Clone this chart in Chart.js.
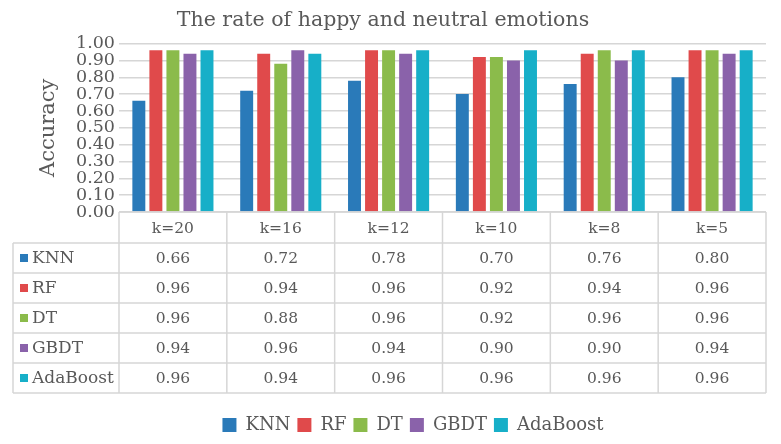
<!DOCTYPE html>
<html>
<head>
<meta charset="utf-8">
<script src="https://cdn.jsdelivr.net/npm/chart.js@4.4.1/dist/chart.umd.min.js"></script>
<style>
  html, body { margin: 0; padding: 0; background: #ffffff; }
  #wrap { width: 781px; height: 444px; }
</style>
</head>
<body>
<div id="wrap"><canvas id="grafica"></canvas></div>
<script>
// datos
const categorias = ["k=20", "k=16", "k=12", "k=10", "k=8", "k=5"];
const knn      = [0.66, 0.72, 0.78, 0.70, 0.76, 0.80];
const rf       = [0.96, 0.94, 0.96, 0.92, 0.94, 0.96];
const dt       = [0.96, 0.88, 0.96, 0.92, 0.96, 0.96];
const gbdt     = [0.94, 0.96, 0.94, 0.90, 0.90, 0.94];
const adaboost = [0.96, 0.94, 0.96, 0.96, 0.96, 0.96];

const series = [
  { nombre: "KNN", datos: knn, color: "#2A7AB9" },
  { nombre: "RF", datos: rf, color: "#E04A4B" },
  { nombre: "DT", datos: dt, color: "#8BBB4B" },
  { nombre: "GBDT", datos: gbdt, color: "#8A62AA" },
  { nombre: "AdaBoost", datos: adaboost, color: "#17AFC8" }
];

const FUENTE = "'DejaVu Serif', 'Liberation Serif', serif";
const GRIS_TEXTO = "#595959";
const GRIS_LINEA = "#d6d6d6";

// tabla de datos debajo del grafico + ajuste de la leyenda
const tablaDatos = {
  id: "tablaDatos",
  afterLayout(chart) {
    // la leyenda del original esta algo desplazada a la derecha
    if (chart.legend) {
      chart.legend.left += 30;
      chart.legend.right += 30;
    }
  },
  afterDraw(chart) {
    const { ctx, chartArea, scales } = chart;
    const x = scales.x;
    const colAncho = (chartArea.right - chartArea.left) / categorias.length;
    const izq = 13;
    const altoCab = 31;
    const altoFila = 30;
    const top = chartArea.bottom;
    const filasTop = top + altoCab;
    const bottom = filasTop + altoFila * series.length;

    ctx.save();
    ctx.strokeStyle = GRIS_LINEA;
    ctx.lineWidth = 1.5;

    // lineas horizontales
    ctx.beginPath();
    ctx.moveTo(chartArea.left, top);
    ctx.lineTo(chartArea.right, top);
    for (let i = 0; i <= series.length; i++) {
      const y = filasTop + i * altoFila;
      ctx.moveTo(izq, y);
      ctx.lineTo(chartArea.right, y);
    }
    // lineas verticales
    ctx.moveTo(izq, filasTop);
    ctx.lineTo(izq, bottom);
    for (let c = 0; c <= categorias.length; c++) {
      const xx = chartArea.left + c * colAncho;
      ctx.moveTo(xx, top);
      ctx.lineTo(xx, bottom);
    }
    ctx.stroke();

    // textos
    ctx.fillStyle = GRIS_TEXTO;
    ctx.font = "15.5px " + FUENTE;
    ctx.textAlign = "center";
    ctx.textBaseline = "middle";
    categorias.forEach((cat, c) => {
      ctx.fillText(cat, x.getPixelForValue(c), top + altoCab / 2 + 1);
    });
    series.forEach((s, f) => {
      const yc = filasTop + f * altoFila + altoFila / 2 + 1;
      s.datos.forEach((v, c) => {
        ctx.fillText(v.toFixed(2), x.getPixelForValue(c), yc);
      });
    });
    ctx.textAlign = "left";
    ctx.font = "17px " + FUENTE;
    series.forEach((s, f) => {
      const yc = filasTop + f * altoFila + altoFila / 2;
      ctx.fillStyle = s.color;
      ctx.fillRect(20, yc - 4, 8, 8);
      ctx.fillStyle = GRIS_TEXTO;
      ctx.fillText(s.nombre, 32, yc + 1);
    });
    ctx.restore();
  }
};

new Chart(document.getElementById("grafica"), {
  type: "bar",
  data: {
    labels: categorias,
    datasets: series.map(s => ({
      label: s.nombre,
      data: s.datos,
      backgroundColor: s.color,
      borderWidth: 0,
      categoryPercentage: 0.79,
      barPercentage: 0.76
    }))
  },
  options: {
    responsive: true,
    maintainAspectRatio: false,
    animation: false,
    devicePixelRatio: 1,
    layout: { padding: { left: 0, right: 15, top: 0, bottom: 0 } },
    plugins: {
      title: {
        display: true,
        text: "The rate of happy and neutral emotions",
        color: GRIS_TEXTO,
        font: { family: FUENTE, size: 20.5, weight: "normal" },
        padding: { top: 8, bottom: 11 }
      },
      legend: {
        position: "bottom",
        labels: {
          color: GRIS_TEXTO,
          font: { family: FUENTE, size: 18 },
          boxWidth: 14,
          boxHeight: 14,
          padding: 7
        }
      },
      tooltip: { enabled: false }
    },
    scales: {
      x: {
        ticks: { display: false },
        grid: { display: false },
        border: { display: false },
        afterFit: s => { s.height = 197; }
      },
      y: {
        min: 0,
        max: 1,
        ticks: {
          stepSize: 0.1,
          autoSkip: false,
          color: GRIS_TEXTO,
          font: { family: FUENTE, size: 17.5, lineHeight: 0.9 },
          padding: 4,
          callback: v => v.toFixed(2)
        },
        grid: { color: GRIS_LINEA, lineWidth: 1.5, drawTicks: false },
        border: { display: false },
        title: {
          display: true,
          text: "Accuracy",
          color: GRIS_TEXTO,
          font: { family: FUENTE, size: 21 },
          padding: { top: 36, bottom: 0 }
        },
        afterFit: s => { s.width = 119; }
      }
    }
  },
  plugins: [tablaDatos]
});
</script>
</body>
</html>
